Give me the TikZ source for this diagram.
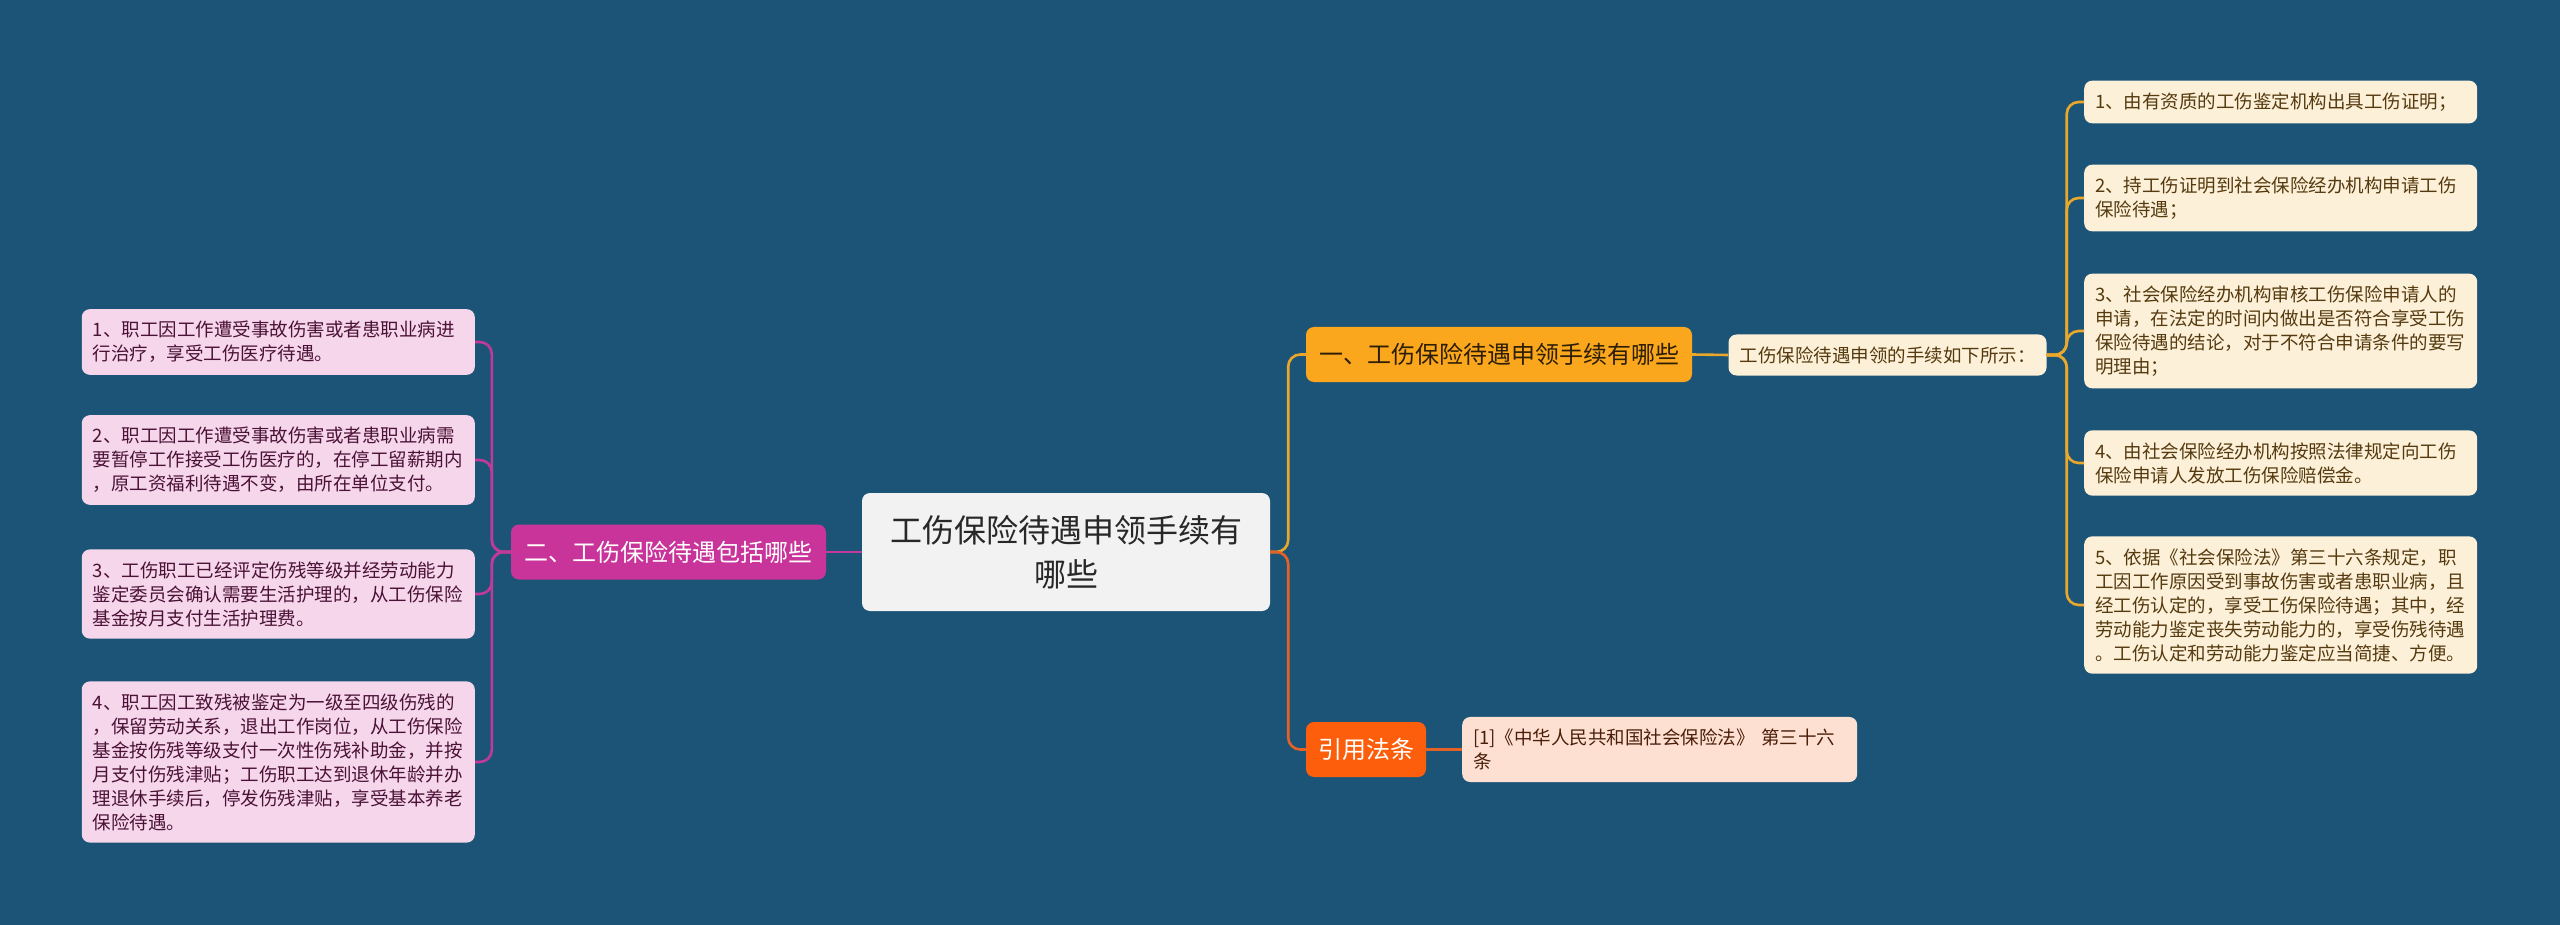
\documentclass[tikz,border=0pt]{standalone}
\usepackage{fontspec}
\newfontfamily\cjk{Noto Sans CJK SC}
\definecolor{bg}{RGB}{27,84,119}
\definecolor{rootfill}{RGB}{242,242,242}
\definecolor{roottext}{RGB}{40,40,40}
\definecolor{bonefill}{RGB}{250,167,30}
\definecolor{bonetext}{RGB}{45,30,5}
\definecolor{creamfill}{RGB}{253,240,216}
\definecolor{creamtext}{RGB}{85,58,15}
\definecolor{citefill}{RGB}{252,94,12}
\definecolor{reffill}{RGB}{253,224,210}
\definecolor{reftext}{RGB}{75,30,10}
\definecolor{btwofill}{RGB}{201,52,154}
\definecolor{pinkfill}{RGB}{246,214,234}
\definecolor{pinktext}{RGB}{75,18,55}
\definecolor{lineG}{RGB}{233,168,43}
\definecolor{lineR}{RGB}{228,98,38}
\definecolor{lineP}{RGB}{193,58,154}
\tikzset{
  box/.style={rounded corners=8pt, inner xsep=11pt, inner ysep=12pt},
  rootbox/.style={box, fill=rootfill, text=roottext, font=\cjk\fontsize{32}{44}\selectfont,
    minimum width=408pt, minimum height=118pt, align=center},
  branchbox/.style={box, font=\cjk\fontsize{24}{30}\selectfont, minimum height=55pt, inner xsep=12pt, align=center},
  leafR/.style={box, fill=creamfill, text=creamtext, font=\cjk\fontsize{18.5}{24}\selectfont,
    text width=371pt, align=left, anchor=west},
  leafL/.style={box, fill=pinkfill, text=pinktext, font=\cjk\fontsize{18.5}{24}\selectfont,
    text width=371pt, align=left, anchor=east},
  conG/.style={draw=lineG, line width=2.6pt, rounded corners=12pt},
  conR/.style={draw=lineR, line width=2.6pt, rounded corners=12pt},
  conP/.style={draw=lineP, line width=2.6pt, rounded corners=12pt},
}
\begin{document}
\begin{tikzpicture}[x=1pt,y=-1pt]
\path[use as bounding box, fill=bg] (0,0) rectangle (2560,925);

% root
\node[rootbox] (root) at (1066,552) {工伤保险待遇申领手续有\\哪些};

% branch 1
\node[branchbox, fill=bonefill, text=bonetext, minimum width=386pt] (b1) at (1499,354.5) {一、工伤保险待遇申领手续有哪些};
\node[box, fill=creamfill, text=creamtext, font=\cjk\fontsize{18.5}{24}\selectfont, minimum width=317pt, minimum height=41pt, inner ysep=6pt] (sub) at (1887.5,355) {工伤保险待遇申领的手续如下所示：};

\node[leafR] (r1) at (2084,102) {1、由有资质的工伤鉴定机构出具工伤证明；};
\node[leafR] (r2) at (2084,198) {2、持工伤证明到社会保险经办机构申请工伤\\保险待遇；};
\node[leafR] (r3) at (2084,331) {3、社会保险经办机构审核工伤保险申请人的\\申请，在法定的时间内做出是否符合享受工伤\\保险待遇的结论，对于不符合申请条件的要写\\明理由；};
\node[leafR] (r4) at (2084,463) {4、由社会保险经办机构按照法律规定向工伤\\保险申请人发放工伤保险赔偿金。};
\node[leafR] (r5) at (2084,605) {5、依据《社会保险法》第三十六条规定，职\\工因工作原因受到事故伤害或者患职业病，且\\经工伤认定的，享受工伤保险待遇；其中，经\\劳动能力鉴定丧失劳动能力的，享受伤残待遇\\。工伤认定和劳动能力鉴定应当简捷、方便。};

% cite branch
\node[branchbox, fill=citefill, text=white, minimum width=120pt] (cite) at (1366,749.5) {引用法条};
\node[box, fill=reffill, text=reftext, font=\cjk\fontsize{18.5}{24}\selectfont, text width=373pt, align=left, anchor=west] (refleaf) at (1462,749.5) {[1]《中华人民共和国社会保险法》 第三十六\\条};

% branch 2
\node[branchbox, fill=btwofill, text=white, minimum width=315pt] (b2) at (668.5,552) {二、工伤保险待遇包括哪些};

\node[leafL] (l1) at (475,342) {1、职工因工作遭受事故伤害或者患职业病进\\行治疗，享受工伤医疗待遇。};
\node[leafL] (l2) at (475,460) {2、职工因工作遭受事故伤害或者患职业病需\\要暂停工作接受工伤医疗的，在停工留薪期内\\，原工资福利待遇不变，由所在单位支付。};
\node[leafL] (l3) at (475,594) {3、工伤职工已经评定伤残等级并经劳动能力\\鉴定委员会确认需要生活护理的，从工伤保险\\基金按月支付生活护理费。};
\node[leafL] (l4) at (475,762) {4、职工因工致残被鉴定为一级至四级伤残的\\，保留劳动关系，退出工作岗位，从工伤保险\\基金按伤残等级支付一次性伤残补助金，并按\\月支付伤残津贴；工伤职工达到退休年龄并办\\理退休手续后，停发伤残津贴，享受基本养老\\保险待遇。};

% connectors
\draw[conG] (root.east) -- ++(18,0) |- (b1.west);
\draw[conR] (root.east) -- ++(18,0) |- (cite.west);
\draw[conG] (b1.east) -- (sub.west);
\foreach \n in {r1,r2,r3,r4,r5} { \draw[conG] (sub.east) -- ++(20,0) |- (\n.west); }
\draw[conR] (cite.east) -- (refleaf.west);
\draw[conP] (root.west) -- (b2.east);
\foreach \n in {l1,l2,l3,l4} { \draw[conP] (b2.west) -- ++(-19,0) |- (\n.east); }
\end{tikzpicture}
\end{document}
